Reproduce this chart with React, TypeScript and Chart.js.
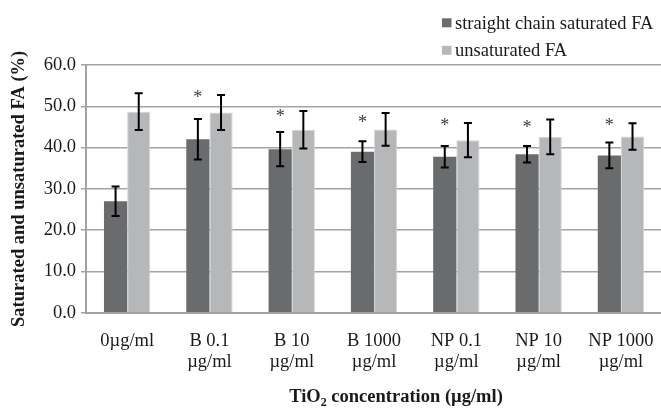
import React, { useEffect, useRef } from "react";
import { Chart, registerables } from "chart.js";

Chart.register(...registerables);

const categories: string[][] = [
  ["0µg/ml"],
  ["B 0.1", "µg/ml"],
  ["B 10", "µg/ml"],
  ["B 1000", "µg/ml"],
  ["NP 0.1", "µg/ml"],
  ["NP 10", "µg/ml"],
  ["NP 1000", "µg/ml"],
];
const seriesNames = ["straight chain saturated FA", "unsaturated FA"];
const saturated = [27.0, 42.0, 39.6, 39.0, 37.8, 38.4, 38.1];
const unsaturated = [48.7, 48.5, 44.3, 44.4, 41.8, 42.6, 42.7];
const saturatedErr = [3.55, 4.9, 4.15, 2.5, 2.6, 2.0, 3.1];
const unsaturatedErr = [4.45, 4.25, 4.55, 3.95, 4.15, 4.2, 3.2];
const significanceMarks: (number | null)[] = [null, 53.0, 48.3, 46.9, 46.2, 45.7, 46.1];
const yMin = 0;
const yMax = 60;
const yStep = 10;
const yTitle = "Saturated and unsaturated FA (%)";
const xTitleParts = ["TiO", "2", " concentration (µg/ml)"];

const FONT = "'Liberation Serif', 'Times New Roman', serif";
const TEXT = "#1a1a1a";
const COLORS = ["#6a6b6d", "#b6b7b9"];
const GRID = "#a3a3a3";

const W = 672;
const H = 410;

export default function App() {
  const ref = useRef<HTMLCanvasElement | null>(null);

  useEffect(() => {
    if (!ref.current) return;
    const errors = [saturatedErr, unsaturatedErr];

    const extras = {
      id: "extras",
      afterDatasetsDraw(chart: any) {
        const ctx = chart.ctx;
        const y = chart.scales.y;
        ctx.save();
        // error bars
        ctx.strokeStyle = "#000";
        ctx.lineWidth = 2;
        chart.data.datasets.forEach((ds: any, di: number) => {
          const meta = chart.getDatasetMeta(di);
          meta.data.forEach((bar: any, i: number) => {
            const v = ds.data[i];
            const e = errors[di][i];
            const x = bar.x;
            const t = y.getPixelForValue(v + e);
            const b = y.getPixelForValue(v - e);
            ctx.beginPath();
            ctx.moveTo(x, t);
            ctx.lineTo(x, b);
            ctx.moveTo(x - 4, t);
            ctx.lineTo(x + 4, t);
            ctx.moveTo(x - 4, b);
            ctx.lineTo(x + 4, b);
            ctx.stroke();
          });
        });
        // significance asterisks
        const meta0 = chart.getDatasetMeta(0);
        ctx.fillStyle = "#3a3a3a";
        ctx.font = `18px ${FONT}`;
        ctx.textAlign = "center";
        ctx.textBaseline = "alphabetic";
        significanceMarks.forEach((m, i) => {
          if (m == null) return;
          const x = meta0.data[i].x;
          ctx.fillText("*", x, y.getPixelForValue(m) + 9);
        });
        ctx.restore();
      },
      afterDraw(chart: any) {
        const ctx = chart.ctx;
        ctx.save();
        // legend
        const lx = 442;
        const rows = [22.8, 50.3];
        ctx.font = `18.5px ${FONT}`;
        ctx.textAlign = "left";
        ctx.textBaseline = "middle";
        seriesNames.forEach((name, i) => {
          ctx.fillStyle = COLORS[i];
          ctx.fillRect(lx, rows[i] - 4.5, 9.5, 9);
          ctx.fillStyle = TEXT;
          ctx.fillText(name, lx + 13, rows[i] + 1);
        });
        // x axis title with subscript
        const bold = `bold 18.5px ${FONT}`;
        const sub = `bold 12px ${FONT}`;
        ctx.font = bold;
        const w0 = ctx.measureText(xTitleParts[0]).width;
        const w2 = ctx.measureText(xTitleParts[2]).width;
        ctx.font = sub;
        const w1 = ctx.measureText(xTitleParts[1]).width;
        const total = w0 + w1 + w2;
        const cx = 396;
        const base = 402;
        let x = cx - total / 2;
        ctx.textBaseline = "alphabetic";
        ctx.fillStyle = TEXT;
        ctx.font = bold;
        ctx.fillText(xTitleParts[0], x, base);
        x += w0;
        ctx.font = sub;
        ctx.fillText(xTitleParts[1], x, base + 4);
        x += w1;
        ctx.font = bold;
        ctx.fillText(xTitleParts[2], x, base);
        ctx.restore();
      },
    };

    const chart = new Chart(ref.current, {
      type: "bar",
      data: {
        labels: categories,
        datasets: [
          {
            label: seriesNames[0],
            data: saturated,
            backgroundColor: COLORS[0],
            borderWidth: 0,
            categoryPercentage: 0.563,
            barPercentage: 1,
          },
          {
            label: seriesNames[1],
            data: unsaturated,
            backgroundColor: COLORS[1],
            borderColor: "#d4d4d4",
            borderWidth: 1,
            categoryPercentage: 0.563,
            barPercentage: 1,
          },
        ],
      },
      options: {
        responsive: false,
        animation: false,
        devicePixelRatio: 1,
        layout: { padding: { left: 0, right: 6, top: 65, bottom: 0 } },
        plugins: {
          legend: { display: false },
          tooltip: { enabled: false },
          title: { display: false },
        },
        scales: {
          x: {
            grid: { display: false, drawTicks: false },
            border: { display: true, color: GRID, width: 2 },
            ticks: {
              color: TEXT,
              font: { family: FONT, size: 18.5, lineHeight: 1.12 },
              padding: 18,
              maxRotation: 0,
              autoSkip: false,
            },
            afterFit: (scale: any) => {
              scale.height = H - 312.7;
            },
          },
          y: {
            min: yMin,
            max: yMax,
            grid: { color: GRID, lineWidth: 1.5, drawTicks: true, tickLength: 5 },
            border: { display: true, color: GRID, width: 2 },
            ticks: {
              stepSize: yStep,
              color: TEXT,
              font: { family: FONT, size: 18.5 },
              padding: 5,
              callback: (v: any) => Number(v).toFixed(1),
            },
            title: {
              display: true,
              text: yTitle,
              color: TEXT,
              font: { family: FONT, size: 18.5, weight: "bold" },
              padding: { top: 8, bottom: 0 },
            },
            afterFit: (scale: any) => {
              scale.width = 86;
            },
          },
        },
      },
      plugins: [extras],
    });
    return () => chart.destroy();
  }, []);

  return (
    <div
      style={{
        position: "absolute",
        left: 0,
        top: 0,
        width: 661,
        height: H,
        overflow: "hidden",
        background: "#fff",
      }}
    >
      <canvas ref={ref} width={W} height={H} style={{ width: W, height: H, display: "block" }} />
    </div>
  );
}
